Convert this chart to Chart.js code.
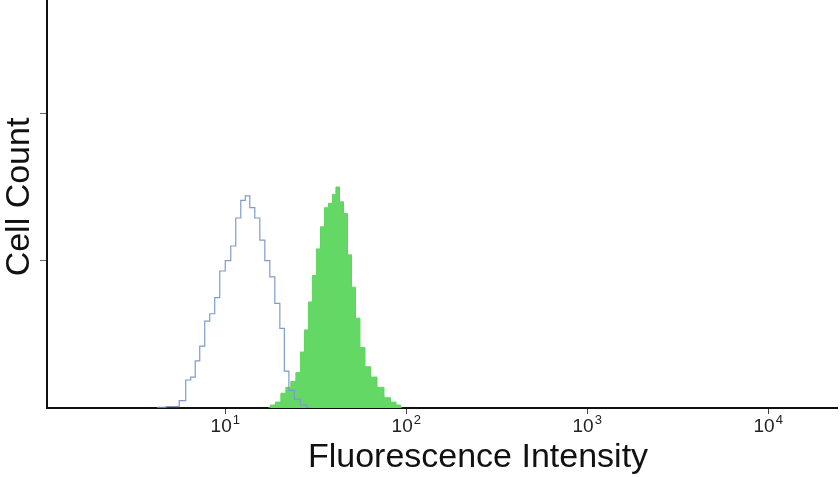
<!DOCTYPE html>
<html>
<head>
<meta charset="utf-8">
<script src="https://cdn.jsdelivr.net/npm/chart.js@4/dist/chart.umd.min.js"></script>
<style>
    html, body { margin: 0; padding: 0; background: #fff; }
    #wrap { width: 840px; height: 477px; }
</style>
</head>
<body>
<div id="wrap"><canvas id="histChart"></canvas></div>
<script>
// --- Data ---
const blueIntensity = [4.2, 5.29, 5.86, 6.24, 6.65, 7.00, 7.46, 7.95, 8.47, 9.03, 9.62, 10.39, 11.07, 11.80, 12.58, 13.24, 14.10, 15.03, 16.03, 17.07, 18.20, 19.40, 20.67, 21.76, 23.19, 25.02, 27.02, 29.52];
const blueCount     = [0.5, 1, 5, 19, 21, 32, 42, 59, 64, 75, 93, 100, 110, 129, 141, 144, 136, 129, 114, 100, 89, 71, 54, 25, 12, 6, 2, 0];

const greenIntensity = [17.30, 18.20, 19.65, 20.94, 22.32, 23.78, 25.35, 26.69, 28.08, 29.52, 31.08, 32.72, 34.43, 36.23, 38.12, 40.11, 41.68, 43.86, 46.15, 48.56, 51.09, 53.75, 57.30, 61.07, 65.94, 72.06, 78.78, 85.09, 90.6, 95.4];
const greenCount     = [0, 2, 4, 10, 14, 18, 24, 38, 53, 72, 90, 108, 123, 136, 139, 145, 150, 140, 132, 104, 82, 61, 41, 28, 21, 14, 7, 4, 2, 0];

const xTickValues = [10, 100, 1000, 10000];
const xTickExponents = ['1', '2', '3', '4'];
const yTickValues = [100, 200];

const toPoints = (xs, ys) => xs.map((x, i) => ({ x: x, y: ys[i] }));
const FONT = '"Liberation Sans", Arial, sans-serif';

// --- Axis titles and 10^n tick labels (with a real superscript) ---
const axisText = {
    id: 'axisText',
    afterDraw(chart) {
        const ctx = chart.ctx;
        const xScale = chart.scales.x;
        ctx.save();
        ctx.fillStyle = '#222';
        ctx.textBaseline = 'alphabetic';

        xTickValues.forEach((v, i) => {
            const px = xScale.getPixelForValue(v);
            ctx.font = '19px ' + FONT;
            const baseW = ctx.measureText('10').width;
            ctx.font = '13px ' + FONT;
            const supW = ctx.measureText(xTickExponents[i]).width;
            const startX = px - (baseW + supW + 1) / 2;
            ctx.textAlign = 'left';
            ctx.font = '19px ' + FONT;
            ctx.fillText('10', startX, 432);
            ctx.font = '13px ' + FONT;
            ctx.fillText(xTickExponents[i], startX + baseW + 1, 424);
        });

        ctx.fillStyle = '#111';
        ctx.font = '34px ' + FONT;
        ctx.textAlign = 'center';
        ctx.fillText('Fluorescence Intensity', 478, 467);
        ctx.translate(29, 197);
        ctx.rotate(-Math.PI / 2);
        ctx.fillText('Cell Count', 0, 0);
        ctx.restore();
    }
};

const ctx = document.getElementById('histChart').getContext('2d');
const histChart = new Chart(ctx, {
    type: 'line',
    data: {
        datasets: [
            {
                label: 'Control',
                data: toPoints(blueIntensity, blueCount),
                borderColor: '#7f9cc9',
                borderWidth: 1.2,
                pointRadius: 0,
                stepped: 'middle',
                fill: false
            },
            {
                label: 'Stained',
                data: toPoints(greenIntensity, greenCount),
                borderColor: '#5fd35f',
                backgroundColor: '#64d864',
                borderWidth: 1,
                pointRadius: 0,
                stepped: 'middle',
                fill: 'origin'
            }
        ]
    },
    options: {
        responsive: true,
        maintainAspectRatio: false,
        animation: false,
        layout: { padding: { left: 0, right: 3, top: 0, bottom: 0 } },
        plugins: {
            legend: { display: false },
            tooltip: { enabled: false }
        },
        scales: {
            x: {
                type: 'logarithmic',
                min: 1.035,
                max: 24000,
                afterFit: (scale) => { scale.height = 69; },
                afterBuildTicks: (scale) => { scale.ticks = xTickValues.map(v => ({ value: v })); },
                border: { display: true, color: '#111', width: 2 },
                grid: { drawOnChartArea: false, drawTicks: true, tickLength: 6, color: '#444' },
                ticks: { display: false },
                title: { display: false }
            },
            y: {
                min: 0,
                max: 277,
                afterFit: (scale) => { scale.width = 47; },
                afterBuildTicks: (scale) => { scale.ticks = yTickValues.map(v => ({ value: v })); },
                border: { display: true, color: '#111', width: 2 },
                grid: { drawOnChartArea: false, drawTicks: true, tickLength: 7, color: '#666' },
                ticks: { display: false },
                title: { display: false }
            }
        }
    },
    plugins: [axisText]
});
</script>
</body>
</html>
